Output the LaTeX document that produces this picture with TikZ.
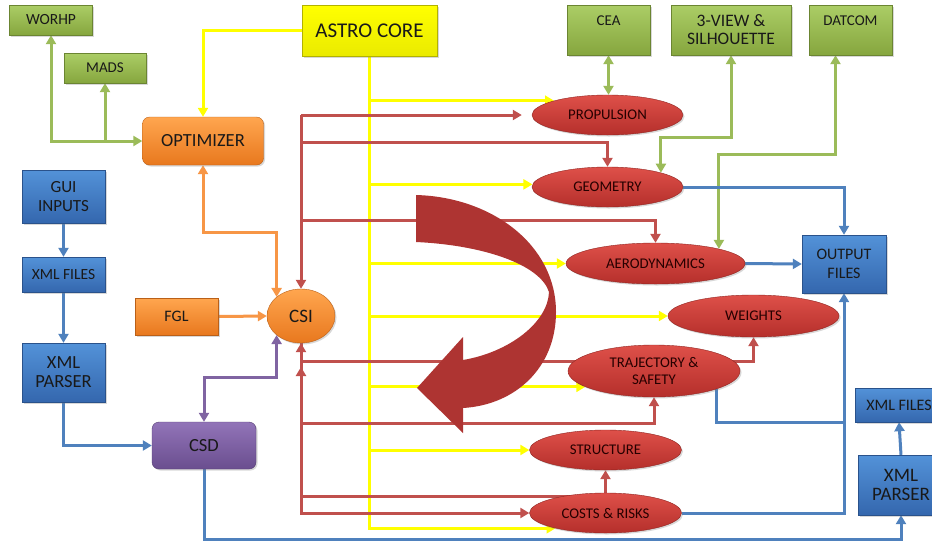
\documentclass[tikz,border=0pt]{standalone}
\usepackage{fontspec}
\setmainfont{Carlito}
\usetikzlibrary{shapes.geometric,arrows.meta,shadows,calc}
\definecolor{grnL}{HTML}{9BBB59}
\definecolor{grnT}{HTML}{ABCD66}
\definecolor{grnB}{HTML}{86A63E}
\definecolor{yelL}{HTML}{FFFF00}
\definecolor{orgL}{HTML}{F79646}
\definecolor{orgT}{HTML}{FFA64F}
\definecolor{orgB}{HTML}{E8781E}
\definecolor{bluL}{HTML}{4F81BD}
\definecolor{bluT}{HTML}{5392D8}
\definecolor{bluB}{HTML}{3467AE}
\definecolor{purL}{HTML}{8064A2}
\definecolor{purT}{HTML}{9274B8}
\definecolor{purB}{HTML}{6A4E8F}
\definecolor{redL}{HTML}{C0504D}
\definecolor{redT}{HTML}{DE5049}
\definecolor{redB}{HTML}{B52F2B}
\definecolor{bigR}{HTML}{AE3432}
\newcommand\myfs[2]{\fontsize{#1}{#2}\selectfont}
\pgfdeclarelayer{bg}
\pgfdeclarelayer{paper}
\pgfsetlayers{paper,bg,main}
\tikzset{
  shad/.style={drop shadow={opacity=.3,shadow xshift=1.5pt,shadow yshift=-1.5pt}},
  boxbase/.style={shad,inner sep=0pt,align=center,text=black!90,line width=0.4pt},
  gbox/.style={boxbase,draw=grnB!80!black,top color=grnT,bottom color=grnB},
  ybox/.style={boxbase,draw=yelL!70!black,top color=yelL,bottom color=yelL!92!black},
  obox/.style={boxbase,draw=orgB!80!black,top color=orgT,bottom color=orgB,rounded corners=7pt},
  bbox/.style={boxbase,draw=bluB!80!black,top color=bluT,bottom color=bluB},
  pbox/.style={boxbase,draw=purB!80!black,top color=purT,bottom color=purB,rounded corners=7pt},
  rell/.style={boxbase,ellipse,draw=redB!80!black,top color=redT,bottom color=redB,text=black!85!red,font=\myfs{14.8}{17}},
  oell/.style={boxbase,ellipse,draw=orgB!80!black,top color=orgT,bottom color=orgB},
  ln/.style={line width=3pt},
  gl/.style={ln,draw=grnL},
  yl/.style={ln,draw=yelL},
  ol/.style={ln,draw=orgL},
  bl/.style={ln,draw=bluL},
  pl/.style={ln,draw=purL},
  rl/.style={ln,draw=redL},
}
\begin{document}
\begin{tikzpicture}[x=1pt,y=-1pt,>={Triangle[length=9pt,width=10pt]}]
\begin{pgfonlayer}{paper}
\fill[white] (0,0) rectangle (932,542);
\end{pgfonlayer}
\useasboundingbox (0,0) rectangle (932,542);

% ---- nodes ----
\node[gbox,minimum width=83pt,minimum height=30pt,font=\myfs{15.5}{18}] (WORHP) at (51,20) {WORHP};
\node[gbox,minimum width=82pt,minimum height=30pt,font=\myfs{15}{18}] (MADS) at (105,68) {MADS};
\node[ybox,minimum width=135pt,minimum height=51pt,font=\myfs{21}{22}] (ASTRO) at (369.5,30.5) {ASTRO CORE};
\node[gbox,minimum width=83pt,minimum height=50pt,font=\myfs{15}{18}] (CEA) at (608.5,30) {CEA\\\phantom{X}};
\node[gbox,minimum width=120pt,minimum height=50pt,font=\myfs{17.5}{18}] (V3) at (731,30) {3-VIEW \&\\SILHOUETTE};
\node[gbox,minimum width=83pt,minimum height=50pt,font=\myfs{15}{18}] (DAT) at (850.5,30) {DATCOM\\\phantom{X}};
\node[obox,minimum width=121pt,minimum height=48pt,font=\myfs{18.5}{20}] (OPT) at (203,141) {OPTIMIZER};
\node[bbox,minimum width=83pt,minimum height=53pt,font=\myfs{17}{19}] (GUI) at (63.5,196.5) {GUI\\INPUTS};
\node[bbox,minimum width=83pt,minimum height=35pt,font=\myfs{15.5}{18}] (XF1) at (63.5,274.5) {XML FILES};
\node[bbox,minimum width=83pt,minimum height=59pt,font=\myfs{18.5}{19}] (XP1) at (63.5,372.5) {XML\\PARSER};
\node[obox,rounded corners=0pt,minimum width=83pt,minimum height=37pt,font=\myfs{16}{18}] (FGL) at (176.5,316.5) {FGL};
\node[oell,minimum width=68pt,minimum height=54pt,font=\myfs{19}{20}] (CSI) at (301,316) {CSI};
\node[pbox,minimum width=104pt,minimum height=47pt,font=\myfs{18.5}{20}] (CSD) at (204,445.5) {CSD};
\node[bbox,minimum width=84pt,minimum height=58pt,font=\myfs{16}{19}] (OUT) at (844,264) {OUTPUT\\FILES};
\node[bbox,minimum width=88pt,minimum height=34pt,font=\myfs{16}{18}] (XF2) at (899,405) {XML FILES};
\node[bbox,minimum width=86pt,minimum height=60pt,font=\myfs{19}{19}] (XP2) at (901,485) {XML\\PARSER};

\node[rell,minimum width=151pt,minimum height=40pt] (PROP) at (607.5,115) {PROPULSION};
\node[rell,minimum width=151pt,minimum height=40pt] (GEOM) at (607.5,187) {GEOMETRY};
\node[rell,minimum width=179pt,minimum height=41pt] (AERO) at (655.5,263.5) {AERODYNAMICS};
\node[rell,minimum width=171pt,minimum height=42pt] (WEI) at (753.5,316) {WEIGHTS};
\node[rell,minimum width=172pt,minimum height=52pt] (TRAJ) at (654,371) {TRAJECTORY \&\\SAFETY};
\node[rell,minimum width=152pt,minimum height=40pt] (STRU) at (605.5,450) {STRUCTURE};
\node[rell,minimum width=152pt,minimum height=40pt] (COST) at (605.5,513) {COSTS \& RISKS};

% ---- helper coordinates ----
\coordinate (rtop) at (301,115);
\coordinate (r2) at (301,142);
\coordinate (r3) at (301,220);
\coordinate (tj) at ($(TRAJ.center)+(0,-10)$);
\coordinate (cj) at ($(COST.center)+(30,-17)$);
\coordinate (csi2) at (301,367);

% ---- connectors ----
\begin{pgfonlayer}{bg}
% green
\draw[gl,<->] (WORHP.south) |- (OPT.west);
\draw[gl,->] (OPT.west -| MADS.south) -- (MADS.south);
\draw[gl,<->] (CEA.south) -- (CEA.south |- PROP.north);
\draw[gl,<->] (V3.south) -- ++(0,82) -| (GEOM.15);
\draw[gl,<->] ([xshift=-15pt]DAT.south) -- ++(0,99) -| (AERO.13);
% yellow
\draw[yl,->] (ASTRO.west) -| (OPT.north);
\draw[yl,->] (ASTRO.south) |- (PROP.165);
\draw[yl,->] (ASTRO.south) |- (GEOM.178);
\draw[yl,->] (ASTRO.south) |- (AERO.west);
\draw[yl,->] (ASTRO.south) |- (WEI.west);
\draw[yl,->] (ASTRO.south) |- (TRAJ.193);
\draw[yl,->] (ASTRO.south) |- (STRU.west);
\draw[yl,->] (ASTRO.south) |- (COST.197);
% red
\draw[rl,->] (rtop) -- (CSI.north);
\draw[rl,->] (rtop) -- ([xshift=-10pt]PROP.west);
\draw[rl,->] (r2) -| (GEOM.north);
\draw[rl,->] (r3) -| (AERO.north);
\draw[rl,->] (tj) -| (CSI.south);
\draw[rl,->] (tj) -| (WEI.south);
\draw[rl,->] (CSI.south) -- ++(0,80) -| (TRAJ.south);
\draw[rl,->] (CSI.south) |- (COST.west);
\draw[rl,->] (cj) -| (csi2);
\draw[rl,->] (COST.north) -- (STRU.south);
% blue
\draw[bl,->] (GUI.south) -- (XF1.north);
\draw[bl,->] (XF1.south) -- (XP1.north);
\draw[bl,->] (XP1.south) |- (CSD.west);
\draw[bl,->] (CSD.south) -- ++(0,70) -| (XP2.south);
\draw[bl,->] (XP2.north) -- (XF2.south);
\draw[bl,->] (GEOM.east) -| (OUT.north);
\draw[bl,->] (AERO.east) -- (OUT.west);
\draw[bl,->] (COST.east) -| (OUT.south);
\draw[bl] (TRAJ.-16) |- ($(OUT.south)+(0,129)$);
% orange
\draw[ol,->] (FGL.east) -- (CSI.west);
\draw[ol,<->] (OPT.south) -- ++(0,67) -| (CSI.142);
% purple
\draw[pl,<->] (CSD.north) -- ++(0,-44) -| (CSI.218);
\end{pgfonlayer}

% ---- big curved arrow ----
\fill[bigR] (416,195) .. controls (492,197) and (556,245) .. (556,312)
  .. controls (556,368) and (515,405) .. (463,408)
  -- (463,433) -- (417,388) -- (463,337) -- (463,360)
  .. controls (510,352) and (548,322) .. (549,292)
  .. controls (540,264) and (482,245) .. (416,242) -- cycle;
\end{tikzpicture}
\end{document}
